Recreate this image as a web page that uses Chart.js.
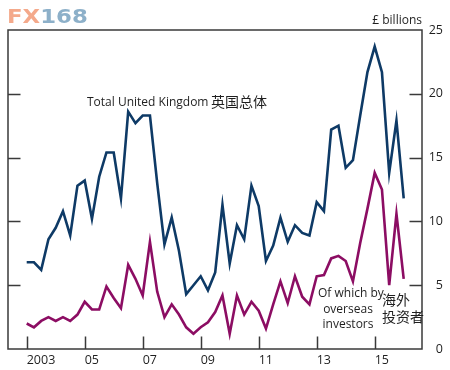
<!DOCTYPE html>
<html>
<head>
<meta charset="utf-8">
<script src="https://cdn.jsdelivr.net/npm/chart.js@4/dist/chart.umd.min.js"></script>
<style>
  html, body { margin: 0; padding: 0; background: #ffffff; }
  #wrap { position: relative; width: 450px; height: 370px; }
</style>
</head>
<body>
<div id="wrap"><canvas id="investChart" width="450" height="370"></canvas></div>
<script>
// Quarterly series, 2003 Q1 .. 2016 Q1 (£ billions)
const startYear = 2003;
const totalUK = [
  6.8, 6.8, 6.2, 8.6, 9.5, 10.8, 8.9, 12.8, 13.2, 10.2,
  13.5, 15.4, 15.4, 11.8, 18.6, 17.7, 18.3, 18.3, 13.0, 8.2,
  10.3, 7.7, 4.3, 5.0, 5.7, 4.6, 6.0, 11.3, 6.7, 9.7,
  8.6, 12.8, 11.2, 6.9, 8.1, 10.3, 8.4, 9.7, 9.1, 8.9,
  11.5, 10.8, 17.2, 17.5, 14.2, 14.8, 18.3, 21.7, 23.7, 21.7,
  13.8, 17.9, 11.8,
];
const overseas = [
  2.0, 1.7, 2.2, 2.5, 2.2, 2.5, 2.2, 2.7, 3.7, 3.1,
  3.1, 4.9, 4.0, 3.2, 6.6, 5.5, 4.2, 8.4, 4.5, 2.5,
  3.5, 2.7, 1.7, 1.2, 1.7, 2.1, 2.9, 4.2, 1.2, 4.2,
  2.7, 3.7, 3.0, 1.6, 3.5, 5.3, 3.6, 5.7, 4.1, 3.5,
  5.7, 5.8, 7.1, 7.3, 6.9, 5.3, 8.3, 11.0, 13.8, 12.5,
  5.0, 10.6, 5.5,
];
const xTickYears = [2003, 2005, 2007, 2009, 2011, 2013, 2015];
const xTickLabels = ["2003", "05", "07", "09", "11", "13", "15"];
const yTickValues = [0, 5, 10, 15, 20, 25];

const NAVY = "#0e3a66";
const MAGENTA = "#8c0d63";
const AXIS = "#3a3a3a";
const TEXT = "#1f1f1f";
const LATIN = "'Open Sans', 'Noto Sans', sans-serif";
const CJK = "'Noto Sans CJK SC', sans-serif";

function toPoints(values) {
  return values.map((v, i) => ({ x: startYear + i / 4, y: v }));
}

/**
 * Frame, inward tick marks and the text annotations
 */
const decorations = {
  id: "decorations",
  afterDraw(chart) {
    const { ctx, chartArea: a, scales } = chart;
    const xs = scales.x;
    const ys = scales.y;
    ctx.save();

    // box round the plot
    ctx.strokeStyle = AXIS;
    ctx.lineWidth = 1.5;
    ctx.strokeRect(a.left, a.top, a.right - a.left, a.bottom - a.top);

    // inward ticks
    ctx.beginPath();
    yTickValues.slice(1, -1).forEach((v) => {
      const y = Math.round(ys.getPixelForValue(v)) + 0.5;
      ctx.moveTo(a.left, y);
      ctx.lineTo(a.left + 12.5, y);
      ctx.moveTo(a.right - 12.5, y);
      ctx.lineTo(a.right, y);
    });
    xTickYears.forEach((yr) => {
      const x = Math.round(xs.getPixelForValue(yr)) + 0.5;
      ctx.moveTo(x, a.bottom);
      ctx.lineTo(x, a.bottom - 12.5);
    });
    ctx.stroke();

    // unit label
    ctx.fillStyle = TEXT;
    ctx.textBaseline = "alphabetic";
    ctx.font = "12px " + LATIN;
    ctx.textAlign = "right";
    ctx.fillText("£ billions", a.right, 24);

    // series labels
    ctx.textAlign = "left";
    ctx.fillText("Total United Kingdom", 87, 106);
    ctx.font = "14px " + CJK;
    ctx.fillText("英国总体", 211, 107);

    ctx.font = "12px " + LATIN;
    ctx.fillText("Of which by", 318, 297);
    ctx.textAlign = "center";
    ctx.fillText("overseas", 348, 312.5);
    ctx.fillText("investors", 348, 328);
    ctx.textAlign = "left";
    ctx.font = "14px " + CJK;
    ctx.fillText("海外", 382, 305);
    ctx.fillText("投资者", 382, 322);

    // watermark
    ctx.font = "bold 19px 'DejaVu Sans', sans-serif";
    ctx.translate(7, 23);
    ctx.scale(1.2, 1);
    ctx.fillStyle = "#f4a98b";
    ctx.fillText("FX", 0, 0);
    const fxw = ctx.measureText("FX").width;
    ctx.fillStyle = "#8db0c9";
    ctx.fillText("168", fxw, 0);

    ctx.restore();
  },
};

function initChart() {
  const ctx = document.getElementById("investChart").getContext("2d");

  new Chart(ctx, {
    type: "line",
    data: {
      datasets: [
        {
          label: "Total United Kingdom",
          data: toPoints(totalUK),
          borderColor: NAVY,
          borderWidth: 2.6,
          pointRadius: 0,
          tension: 0,
        },
        {
          label: "Of which by overseas investors",
          data: toPoints(overseas),
          borderColor: MAGENTA,
          borderWidth: 2.6,
          pointRadius: 0,
          tension: 0,
        },
      ],
    },
    options: {
      responsive: false,
      animation: false,
      layout: { padding: { left: 8, top: 30, right: 7, bottom: 0 } },
      plugins: {
        legend: { display: false },
        tooltip: { enabled: false },
      },
      scales: {
        x: {
          type: "linear",
          min: 2002.355,
          max: 2016.631,
          afterBuildTicks: (scale) => {
            scale.ticks = xTickYears.map((v) => ({ value: v }));
          },
          afterFit: (scale) => {
            scale.height = 21;
          },
          grid: { display: false, drawTicks: false },
          border: { display: false },
          ticks: {
            align: "start",
            padding: 4,
            color: TEXT,
            font: { family: LATIN, size: 12.5 },
            autoSkip: false,
            maxRotation: 0,
            callback: (v) => xTickLabels[xTickYears.indexOf(v)],
          },
        },
        y: {
          position: "right",
          min: 0,
          max: 25,
          afterBuildTicks: (scale) => {
            scale.ticks = yTickValues.map((v) => ({ value: v }));
          },
          afterFit: (scale) => {
            scale.width = 21;
          },
          grid: { display: false, drawTicks: false },
          border: { display: false },
          ticks: {
            crossAlign: "far",
            padding: 6,
            color: TEXT,
            font: { family: LATIN, size: 12.5 },
          },
        },
      },
    },
    plugins: [decorations],
  });
}

initChart();
</script>
</body>
</html>
